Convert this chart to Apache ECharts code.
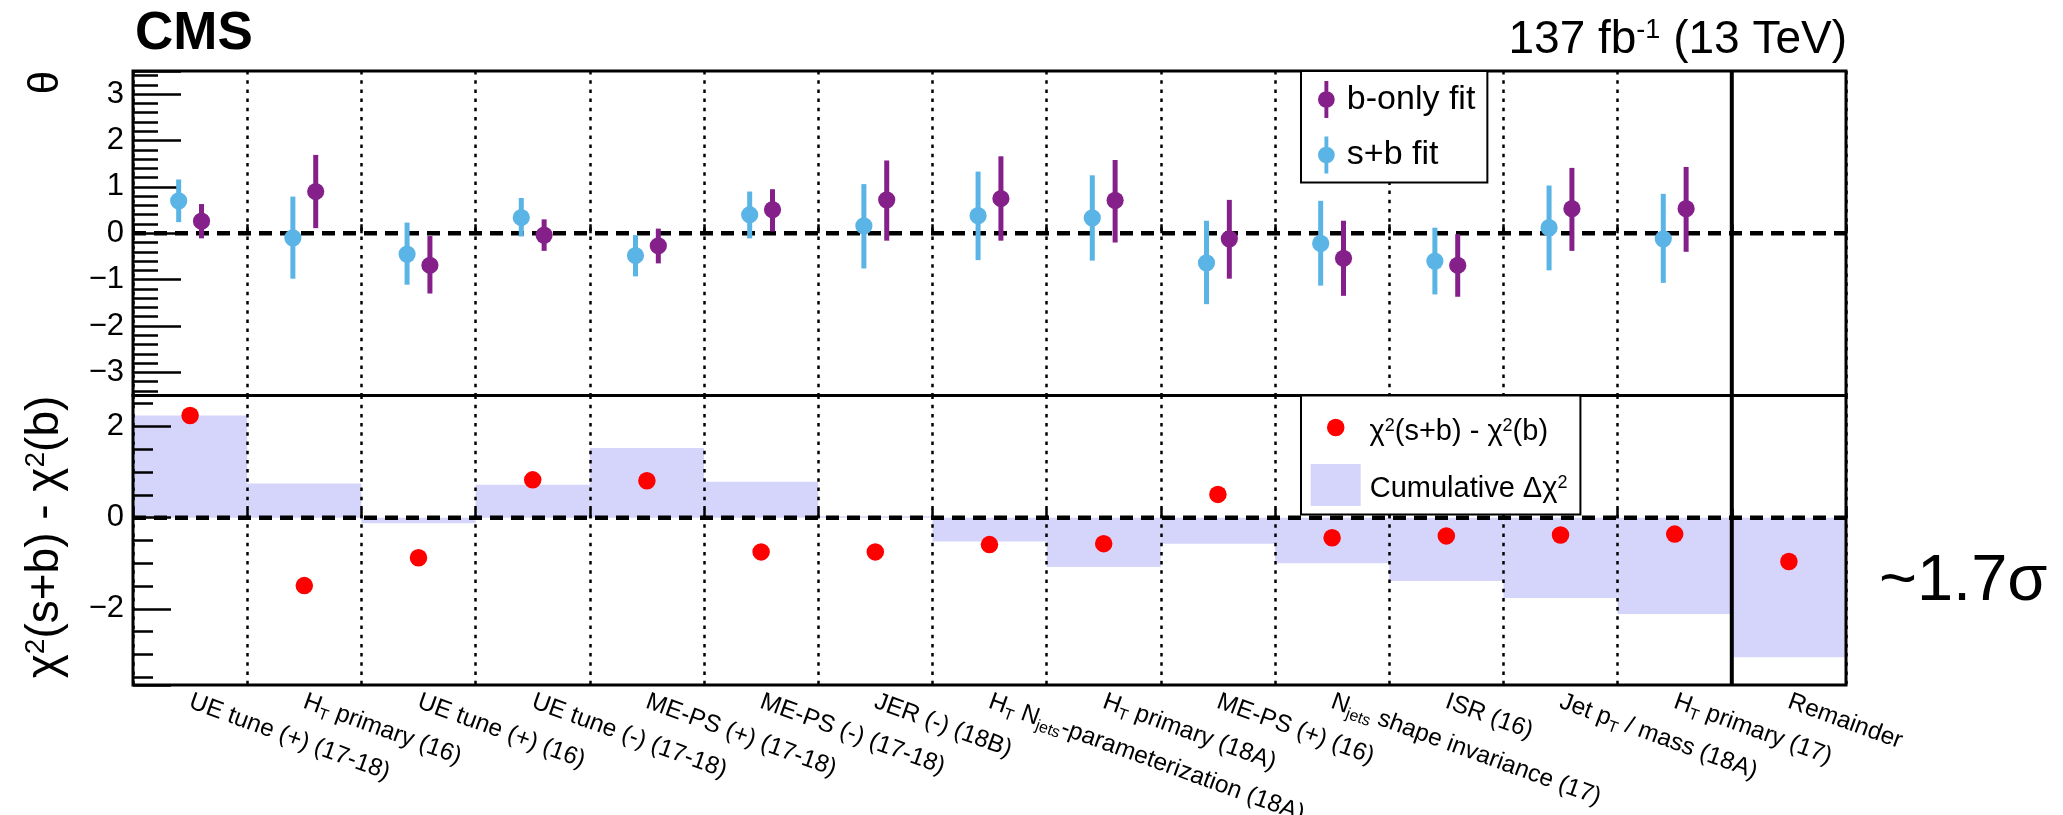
<!DOCTYPE html>
<html>
<head>
<meta charset="utf-8">
<script src="https://cdn.jsdelivr.net/npm/echarts@6/dist/echarts.min.js"></script>
<style>
  html, body { margin: 0; padding: 0; background: #fff; }
  #chart { width: 2063px; height: 815px; }
</style>
</head>
<body>
<div id="chart"></div>
<script>
// Nuisance parameters, in the order they are ranked on the x axis
const categories = [
  'UE tune (+) (17-18)',
  'H_{T} primary (16)',
  'UE tune (+) (16)',
  'UE tune (-) (17-18)',
  'ME-PS (+) (17-18)',
  'ME-PS (-) (17-18)',
  'JER (-) (18B)',
  'H_{T} N_{jets}-parameterization (18A)',
  'H_{T} primary (18A)',
  'ME-PS (+) (16)',
  'N_{jets} shape invariance (17)',
  'ISR (16)',
  'Jet p_{T} / mass (18A)',
  'H_{T} primary (17)',
  'Remainder'
];

// Post-fit pulls (theta) and the ends of their uncertainty bars
const sbFit  = [0.70, -0.10, -0.45, 0.34, -0.48, 0.40, 0.16, 0.38, 0.33, -0.64, -0.22, -0.60, 0.12, -0.12];
const sbLow  = [0.24, -0.98, -1.11, -0.07, -0.93, -0.11, -0.76, -0.58, -0.59, -1.53, -1.13, -1.32, -0.80, -1.07];
const sbHigh = [1.16, 0.79, 0.23, 0.76, -0.04, 0.90, 1.06, 1.33, 1.25, 0.27, 0.70, 0.12, 1.03, 0.85];
const bFit   = [0.26, 0.90, -0.69, -0.04, -0.27, 0.51, 0.72, 0.75, 0.71, -0.12, -0.54, -0.69, 0.53, 0.53];
const bLow   = [-0.11, 0.11, -1.30, -0.38, -0.65, 0.04, -0.16, -0.16, -0.20, -0.98, -1.35, -1.37, -0.38, -0.40];
const bHigh  = [0.63, 1.69, -0.06, 0.30, 0.10, 0.95, 1.57, 1.66, 1.58, 0.72, 0.27, -0.02, 1.41, 1.43];

// chi2(s+b) - chi2(b) per nuisance and its running total
const deltaChi2      = [2.24, -1.49, -0.88, 0.83, 0.81, -0.75, -0.75, -0.59, -0.57, 0.51, -0.44, -0.40, -0.38, -0.36, -0.96];
const cumulativeChi2 = [2.24, 0.75, -0.12, 0.72, 1.53, 0.79, 0.03, -0.52, -1.08, -0.57, -1.00, -1.39, -1.76, -2.11, -3.06];

// Labelled ticks of the two y axes
const thetaTicks = [-3, -2, -1, 0, 1, 2, 3];
const chi2Ticks = [-2, 0, 2];

const FONT = '"Liberation Sans", Arial, Helvetica, sans-serif';
const PURPLE = '#85208A';
const BLUE = '#5BB4E6';
const RED = '#FF0000';
const FILL = '#D5D5FB';

const remainderIndex = categories.indexOf('Remainder');
const toRich = s => s.replace(/_\{([^}]*)\}/g, '{sub|$1}');
const fmtTick = ticks => v => {
  const r = Math.round(v);
  if (Math.abs(v - r) > 1e-6 || ticks.indexOf(r) < 0) return '';
  return r < 0 ? '\u2212' + Math.abs(r) : String(r);
};

function xAxisFor(gridIndex, withLabels) {
  return {
    type: 'category', gridIndex, data: categories, boundaryGap: true, z: 3,
    axisLine: { show: false },
    axisTick: { show: true, inside: true, length: 9, interval: 0, lineStyle: { color: '#000', width: 2.5 } },
    splitLine: {
      show: true,
      interval: (i) => i !== remainderIndex,
      lineStyle: { color: '#000', width: 2.5, type: [3.5, 5.7] }
    },
    axisLabel: withLabels ? {
      show: true, interval: 0, rotate: -20, margin: 16,
      color: '#000', fontSize: 24.5, fontFamily: FONT, lineHeight: 30,
      formatter: (v) => toRich(v),
      rich: { sub: { fontSize: 16, lineHeight: 16, verticalAlign: 'bottom', fontFamily: FONT, color: '#000' } }
    } : { show: false }
  };
}

function yAxisFor(gridIndex, min, max, splitNumber, ticks, majorLen, minorLen, minorSplit) {
  return {
    type: 'value', gridIndex, min, max, splitNumber, z: 3,
    axisLine: { show: false },
    splitLine: { show: false },
    axisTick: { show: true, inside: true, length: majorLen, lineStyle: { color: '#000', width: 2.5 } },
    minorTick: { show: true, splitNumber: minorSplit, length: minorLen, lineStyle: { color: '#000', width: 2.5 } },
    axisLabel: { color: '#000', fontSize: 31, fontFamily: FONT, margin: 9, formatter: fmtTick(ticks) }
  };
}

// Pull marker with its vertical uncertainty bar, shifted inside the category band
function pullSeries(name, color, vals, lows, highs, shift) {
  return {
    type: 'custom', name, xAxisIndex: 0, yAxisIndex: 0, z: 6,
    itemStyle: { color },
    data: vals.map((v, i) => [i, v, lows[i], highs[i]]),
    renderItem(params, api) {
      const band = api.size([1, 0])[0];
      const c = api.coord([api.value(0), api.value(1)]);
      const lo = api.coord([api.value(0), api.value(2)]);
      const hi = api.coord([api.value(0), api.value(3)]);
      const x = c[0] + shift * band;
      return {
        type: 'group',
        children: [
          { type: 'line', shape: { x1: x, y1: lo[1], x2: x, y2: hi[1] }, style: { stroke: color, lineWidth: 5 } },
          { type: 'circle', shape: { cx: x, cy: c[1], r: 8.6 }, style: { fill: color } }
        ]
      };
    }
  };
}

// Dashed reference line at zero across a panel
function zeroLine(k) {
  return {
    type: 'custom', xAxisIndex: k, yAxisIndex: k, z: 5, silent: true,
    data: [[0, 0]],
    renderItem(params, api) {
      const cs = params.coordSys;
      const y = api.coord([api.value(0), api.value(1)])[1];
      return { type: 'line', shape: { x1: cs.x, y1: y, x2: cs.x + cs.width, y2: y },
               style: { stroke: '#000', lineWidth: 4.5, lineDash: [13, 8] } };
    }
  };
}

// Solid separator before the "Remainder" bin
function separator(k) {
  return {
    type: 'custom', xAxisIndex: k, yAxisIndex: k, z: 5, silent: true,
    data: [[remainderIndex, 0]],
    renderItem(params, api) {
      const cs = params.coordSys;
      const band = api.size([1, 0])[0];
      const x = api.coord([api.value(0), api.value(1)])[0] - band / 2;
      return { type: 'line', shape: { x1: x, y1: cs.y, x2: x, y2: cs.y + cs.height },
               style: { stroke: '#000', lineWidth: 4 } };
    }
  };
}

const pullIcon = 'path://M6.5,0H10.5V38H6.5Z M17.1,19A8.6,8.6,0,1,1,-0.1,19A8.6,8.6,0,1,1,17.1,19Z';
const supFmt = name => name.replace(/χ2/g, 'χ{sup|2}');

const chart = echarts.init(document.getElementById('chart'));
chart.setOption({
  animation: false,
  backgroundColor: '#fff',
  textStyle: { fontFamily: FONT },
  grid: [
    { left: 133, top: 71, width: 1713, height: 324.5, show: true, backgroundColor: 'transparent',
      borderColor: '#000', borderWidth: 3, z: 4, containLabel: false, outerBoundsMode: 'none' },
    { left: 133, top: 395.5, width: 1713, height: 289.5, show: true, backgroundColor: 'transparent',
      borderColor: '#000', borderWidth: 3, z: 4, containLabel: false, outerBoundsMode: 'none' }
  ],
  xAxis: [xAxisFor(0, false), xAxisFor(1, true)],
  yAxis: [
    yAxisFor(0, -3.5, 3.5, 7, thetaTicks, 48, 25, 5),
    yAxisFor(1, -3.67, 2.68, 3, chi2Ticks, 38, 20, 4)
  ],
  legend: [
    {
      orient: 'vertical', left: 1301, top: 71, z: 10, selectedMode: false,
      backgroundColor: '#fff', borderColor: '#000', borderWidth: 2, borderRadius: 0,
      padding: [10, 12, 9, 17], itemGap: 18.5, itemWidth: 17, itemHeight: 37,
      data: [{ name: 'b-only fit', icon: pullIcon }, { name: 's+b fit', icon: pullIcon }],
      textStyle: { color: '#000', fontSize: 34, fontFamily: FONT, padding: [0, 0, 0, 7] }
    },
    {
      orient: 'vertical', left: 1301, top: 395.5, z: 10, selectedMode: false,
      backgroundColor: '#fff', borderColor: '#000', borderWidth: 2, borderRadius: 0,
      padding: [68.5, 13, 8.5, 9.7], itemWidth: 50, itemHeight: 42,
      data: [{ name: 'Cumulative Δχ2', icon: 'rect' }],
      formatter: supFmt,
      textStyle: { color: '#000', fontSize: 29, fontFamily: FONT, padding: [8, 0, 0, 4],
                   rich: { sup: { fontSize: 18, verticalAlign: 'top', fontFamily: FONT, color: '#000' } } }
    },
    {
      orient: 'vertical', left: 1327, top: 417, z: 11, selectedMode: false,
      backgroundColor: 'transparent', borderWidth: 0, padding: 0, itemWidth: 17.5, itemHeight: 17.5,
      data: [{ name: 'χ2(s+b) - χ2(b)', icon: 'circle' }],
      formatter: supFmt,
      textStyle: { color: '#000', fontSize: 29, fontFamily: FONT, padding: [8, 0, 0, 20],
                   rich: { sup: { fontSize: 18, verticalAlign: 'top', fontFamily: FONT, color: '#000' } } }
    }
  ],
  graphic: [
    { type: 'text', x: 135, y: 34, z: 20,
      style: { text: 'CMS', fontSize: 53, fontWeight: 'bold', fontFamily: FONT, fill: '#000', align: 'left', verticalAlign: 'middle' } },
    { type: 'text', x: 1847, y: 40, z: 20,
      style: { text: '{n|137 fb}{s|-1}{n| (13 TeV)}', align: 'right', verticalAlign: 'middle',
               rich: { n: { fontSize: 46, fontFamily: FONT, fill: '#000' },
                       s: { fontSize: 27, fontFamily: FONT, fill: '#000', verticalAlign: 'top' } } } },
    { type: 'text', x: 46, y: 82.5, rotation: Math.PI / 2, z: 20,
      style: { text: 'θ', fontSize: 42, fontFamily: FONT, fill: '#000', align: 'center', verticalAlign: 'middle' } },
    { type: 'text', x: 45.5, y: 537, rotation: Math.PI / 2, z: 20,
      style: { text: '{n|χ}{s|2}{n|(s+b) - χ}{s|2}{n|(b)}', align: 'center', verticalAlign: 'middle',
               rich: { n: { fontSize: 46, fontFamily: FONT, fill: '#000' },
                       s: { fontSize: 28, fontFamily: FONT, fill: '#000', verticalAlign: 'top' } } } },
    { type: 'text', x: 1879, y: 582, z: 20,
      style: { text: '~1.7σ', fontSize: 65, fontFamily: FONT, fill: '#000', align: 'left', verticalAlign: 'middle' } }
  ],
  series: [
    pullSeries('s+b fit', BLUE, sbFit, sbLow, sbHigh, -0.1),
    pullSeries('b-only fit', PURPLE, bFit, bLow, bHigh, 0.1),
    zeroLine(0),
    separator(0),
    {
      type: 'bar', name: 'Cumulative Δχ2', xAxisIndex: 1, yAxisIndex: 1, z: 1,
      barWidth: '100%', barGap: '-100%', silent: true,
      itemStyle: { color: FILL, borderWidth: 0, opacity: 1 },
      data: cumulativeChi2
    },
    {
      type: 'scatter', name: 'χ2(s+b) - χ2(b)', xAxisIndex: 1, yAxisIndex: 1, z: 6,
      symbol: 'circle', symbolSize: 17.5, silent: true,
      itemStyle: { color: RED, opacity: 1 },
      data: deltaChi2
    },
    zeroLine(1),
    separator(1)
  ]
});
</script>
</body>
</html>
